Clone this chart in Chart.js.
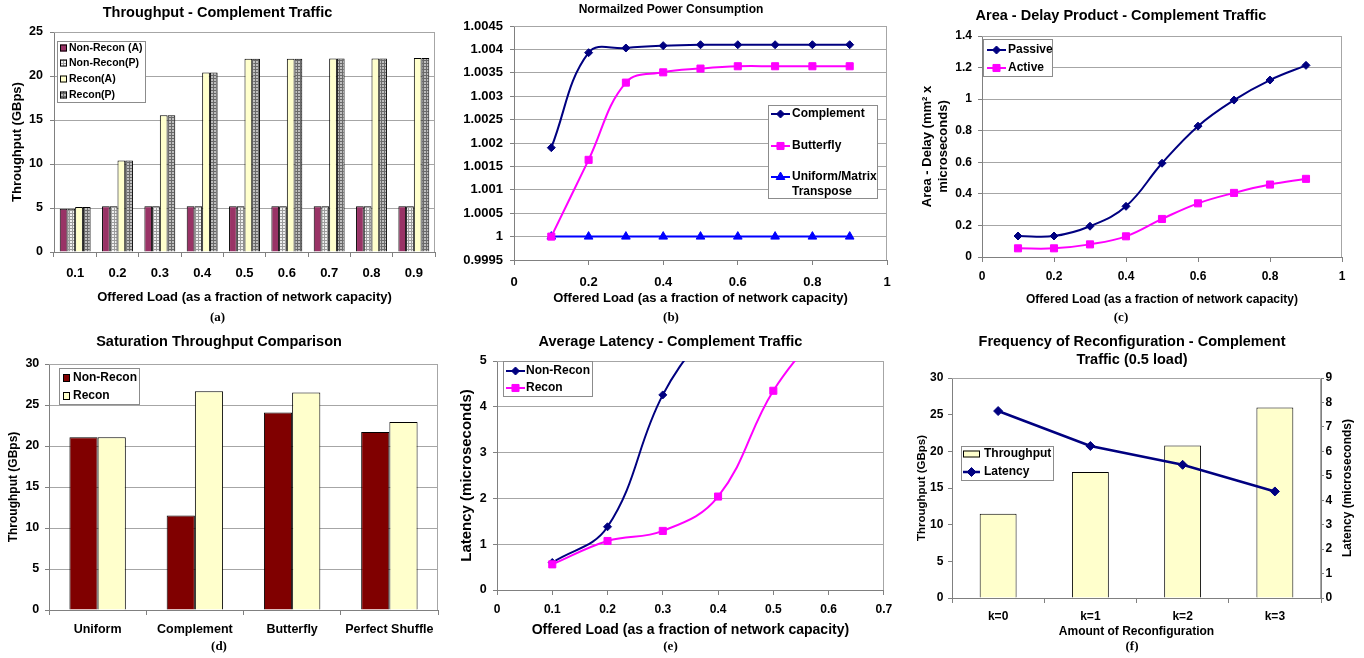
<!DOCTYPE html>
<html lang="en">
<head>
<meta charset="UTF-8">
<title>Reconfigurable network results</title>
<script src="https://cdn.jsdelivr.net/npm/chart.js@4.4.1/dist/chart.umd.min.js"></script>
<style>
  body { margin: 0; background: #fff; width: 1364px; height: 658px; position: relative; overflow: hidden; }
  canvas { position: absolute; }
</style>
</head>
<body>
<canvas id="a" width="455" height="325" style="left:0;top:0"></canvas>
<canvas id="b" width="445" height="325" style="left:455px;top:0"></canvas>
<canvas id="c" width="464" height="325" style="left:900px;top:0"></canvas>
<canvas id="d" width="455" height="333" style="left:0;top:325px"></canvas>
<canvas id="e" width="445" height="333" style="left:455px;top:325px"></canvas>
<canvas id="f" width="464" height="333" style="left:900px;top:325px"></canvas>
<script>
// (a) throughput, complement traffic
const loadA = ['0.1', '0.2', '0.3', '0.4', '0.5', '0.6', '0.7', '0.8', '0.9'];
const nonReconA = [4.92, 5.2, 5.2, 5.2, 5.2, 5.2, 5.2, 5.2, 5.2];
const nonReconP = [4.92, 5.2, 5.2, 5.2, 5.2, 5.2, 5.2, 5.2, 5.2];
const reconA = [5.1, 10.4, 15.55, 20.4, 21.95, 21.95, 22.0, 22.0, 22.05];
const reconP = [5.1, 10.4, 15.55, 20.4, 21.95, 21.95, 22.0, 22.0, 22.05];

// (b) normalized power
const loadB = [0.1, 0.2, 0.3, 0.4, 0.5, 0.6, 0.7, 0.8, 0.9];
const powerComplement = [1.0019, 1.00393, 1.00403, 1.00408, 1.0041, 1.0041, 1.0041, 1.0041, 1.0041];
const powerButterfly = [1.0, 1.00164, 1.00329, 1.00351, 1.00359, 1.00364, 1.00364, 1.00364, 1.00364];
const powerUniform = [1, 1, 1, 1, 1, 1, 1, 1, 1];

// (c) area - delay product
const loadC = [0.1, 0.2, 0.3, 0.4, 0.5, 0.6, 0.7, 0.8, 0.9];
const adPassive = [0.133, 0.133, 0.195, 0.321, 0.594, 0.829, 0.994, 1.121, 1.214];
const adActive = [0.055, 0.055, 0.08, 0.131, 0.241, 0.34, 0.406, 0.459, 0.495];

// (d) saturation throughput
const patterns = ['Uniform', 'Complement', 'Butterfly', 'Perfect Shuffle'];
const satNonRecon = [21.07, 11.53, 24.08, 21.72];
const satRecon = [21.07, 26.67, 26.51, 22.94];

// (e) average latency (last points run off the top of the plot)
const loadNonRecon = [0.1, 0.2, 0.3, 0.4];
const latNonRecon = [0.6, 1.38, 4.26, 6.0];
const loadRecon = [0.1, 0.2, 0.3, 0.4, 0.5, 0.6];
const latRecon = [0.56, 1.07, 1.29, 2.04, 4.35, 5.9];

// (f) frequency of reconfiguration
const kLabels = ['k=0', 'k=1', 'k=2', 'k=3'];
const freqThroughput = [11.5, 17.2, 20.8, 26.0];
const freqLatency = [7.65, 6.22, 5.45, 4.36];

const SANS = "'Liberation Sans', Arial, sans-serif";
const SERIF = "'Liberation Serif', 'Times New Roman', serif";

Chart.defaults.font.family = SANS;
Chart.defaults.font.weight = 'bold';
Chart.defaults.color = '#000';
Chart.defaults.animation = false;
Chart.defaults.responsive = false;
Chart.defaults.events = [];
Chart.defaults.plugins.legend.display = false;
Chart.defaults.plugins.tooltip.enabled = false;

const bold = (size, lineHeight) => ({ family: SANS, size, weight: 'bold', lineHeight: lineHeight || 1.2 });
const num = v => String(+Number(v).toFixed(4));
const pts = (xs, ys) => xs.map((x, i) => ({ x, y: ys[i] }));

function title(text, size, top, bottom, lh) {
    return { display: true, text, color: '#000', font: bold(size, lh), padding: { top, bottom } };
}

function caption(text, bottom) {
    return {
        display: true, text, position: 'bottom', color: '#000',
        font: { family: SERIF, size: 13, weight: 'bold' }, padding: { top: 0, bottom }
    };
}

function yAxis(o) {
    return {
        position: o.position || 'left',
        min: o.min, max: o.max,
        afterFit: s => { s.width = o.width; },
        border: { color: '#808080' },
        grid: { color: '#a6a6a6', drawOnChartArea: !o.noGrid, tickLength: o.tick || 4, tickColor: '#808080' },
        ticks: { stepSize: o.step, padding: o.pad, font: bold(o.size), callback: num },
        title: o.title
            ? { display: true, text: o.title, color: '#000', font: bold(o.titleSize, o.lh), padding: { top: o.titlePad, bottom: 0 } }
            : { display: false }
    };
}

function xAxis(o) {
    const ticks = { padding: o.pad, font: bold(o.size), maxRotation: 0, autoSkip: false };
    const axis = {
        type: o.type || 'category',
        afterFit: s => { s.height = o.height; },
        border: { color: '#808080' },
        grid: { drawOnChartArea: false, tickLength: 5, tickColor: '#808080' },
        ticks,
        title: o.title
            ? { display: true, text: o.title, color: '#000', font: bold(o.titleSize), padding: { top: 0, bottom: o.titlePad } }
            : { display: false }
    };
    if (o.type === 'linear') {
        axis.min = o.min;
        axis.max = o.max;
        ticks.stepSize = o.step;
        ticks.callback = num;
    }
    return axis;
}

function bars(label, data, color) {
    return { label, data, backgroundColor: color, borderColor: '#000', borderWidth: 1 };
}

function line(label, data, color, style, radius, extra) {
    return Object.assign({
        label, data, borderColor: color, backgroundColor: color,
        pointBackgroundColor: color, pointBorderColor: color, pointBorderWidth: 1,
        pointStyle: style, pointRadius: radius, borderWidth: 2, tension: 0.4
    }, extra);
}

// fine grey mesh used for the "(P)" bars
function mesh(bg, fg) {
    const c = document.createElement('canvas');
    c.width = c.height = 3;
    const g = c.getContext('2d');
    g.fillStyle = bg;
    g.fillRect(0, 0, 3, 3);
    g.fillStyle = fg;
    g.fillRect(0, 0, 3, 1);
    g.fillRect(0, 0, 1, 3);
    return g.createPattern(c, 'repeat');
}

function drawMarker(ctx, style, r, x, y) {
    if (Chart.helpers && Chart.helpers.drawPoint) {
        Chart.helpers.drawPoint(ctx, { pointStyle: style, radius: r, rotation: 0, borderWidth: 1 }, x, y);
        return;
    }
    ctx.beginPath();
    if (style === 'rect') ctx.rect(x - r * 0.7, y - r * 0.7, r * 1.4, r * 1.4);
    else if (style === 'triangle') { ctx.moveTo(x, y - r); ctx.lineTo(x + r * 0.87, y + r / 2); ctx.lineTo(x - r * 0.87, y + r / 2); }
    else { ctx.moveTo(x, y - r); ctx.lineTo(x + r, y); ctx.lineTo(x, y + r); ctx.lineTo(x - r, y); }
    ctx.closePath();
    ctx.fill();
}

// boxed legend inside the plot, like the spreadsheet originals
function drawLegend(chart, L) {
    const ctx = chart.ctx;
    ctx.save();
    ctx.fillStyle = '#fff';
    ctx.fillRect(L.box[0], L.box[1], L.box[2], L.box[3]);
    ctx.strokeStyle = '#8c8c8c';
    ctx.lineWidth = 1;
    ctx.strokeRect(L.box[0] + 0.5, L.box[1] + 0.5, L.box[2], L.box[3]);
    ctx.font = 'bold ' + L.size + 'px ' + SANS;
    ctx.textBaseline = 'middle';
    chart.data.datasets.forEach((ds, i) => {
        const y = L.rows[i];
        const kind = ds.type || chart.config.type;
        if (kind === 'bar') {
            ctx.fillStyle = ds.backgroundColor;
            ctx.fillRect(L.sx, y - L.sh / 2, L.sw, L.sh);
            ctx.strokeStyle = '#000';
            ctx.lineWidth = 1;
            ctx.strokeRect(L.sx + 0.5, y - L.sh / 2 + 0.5, L.sw - 1, L.sh - 1);
        } else {
            ctx.strokeStyle = ds.borderColor;
            ctx.lineWidth = ds.borderWidth;
            ctx.beginPath();
            ctx.moveTo(L.sx, y);
            ctx.lineTo(L.sx + L.sw, y);
            ctx.stroke();
            ctx.fillStyle = ds.pointBackgroundColor;
            ctx.strokeStyle = ds.pointBorderColor;
            ctx.lineWidth = 1;
            drawMarker(ctx, ds.pointStyle, ds.pointRadius, L.sx + L.sw / 2, y);
        }
        ctx.fillStyle = '#000';
        String(ds.label).split('\n').forEach((t, k) => ctx.fillText(t, L.tx, y + k * (L.lh || 15)));
    });
    ctx.restore();
}

function panel(spec) {
    return {
        id: 'panel',
        beforeDatasetsDraw(chart) {
            const { ctx, chartArea: a } = chart;
            const l = Math.round(a.left), r = Math.round(a.right) - 0.5, t = Math.round(a.top) + 0.5, b = Math.round(a.bottom);
            ctx.save();
            ctx.strokeStyle = '#a6a6a6';
            ctx.lineWidth = 1;
            ctx.beginPath();
            ctx.moveTo(l, t);
            ctx.lineTo(r, t);
            ctx.lineTo(r, b);
            ctx.stroke();
            ctx.restore();
        },
        afterDraw(chart) {
            if (spec.legend) drawLegend(chart, spec.legend);
            if (spec.rightTitle) {
                const R = spec.rightTitle, { ctx, chartArea: a } = chart;
                ctx.save();
                ctx.translate(R.x, (a.top + a.bottom) / 2);
                ctx.rotate(-Math.PI / 2);
                ctx.font = 'bold ' + R.size + 'px ' + SANS;
                ctx.fillStyle = '#000';
                ctx.textAlign = 'center';
                ctx.textBaseline = 'middle';
                ctx.fillText(R.text, 0, 0);
                ctx.restore();
            }
        }
    };
}

const offered = 'Offered Load (as a fraction of network capacity)';

// (a)
new Chart(document.getElementById('a'), {
    type: 'bar',
    data: {
        labels: loadA,
        datasets: [
            bars('Non-Recon (A)', nonReconA, '#993366'),
            bars('Non-Recon(P)', nonReconP, mesh('#efefef', '#9c9c9c')),
            bars('Recon(A)', reconA, '#ffffcc'),
            bars('Recon(P)', reconP, mesh('#bebebe', '#6a6a6a'))
        ]
    },
    options: {
        layout: { padding: { left: 0, right: 20, top: 0, bottom: 0 } },
        datasets: { bar: { categoryPercentage: 0.73, barPercentage: 1 } },
        scales: {
            x: xAxis({ height: 57.4, pad: 9, size: 13, title: offered, titleSize: 13, titlePad: 4.6 }),
            y: yAxis({ min: 0, max: 25, step: 5, width: 54, pad: 7, size: 12.5, title: 'Throughput (GBps)', titleSize: 13, titlePad: 9.2 })
        },
        plugins: {
            title: title('Throughput - Complement Traffic', 14.5, 4, 10.6),
            subtitle: caption('(a)', 0)
        }
    },
    plugins: [panel({ legend: { box: [57, 41, 88, 61], sx: 60, sw: 7, sh: 7, tx: 69, rows: [48, 63, 79, 95], size: 10.5 } })]
});

// (b)
new Chart(document.getElementById('b'), {
    type: 'line',
    data: {
        datasets: [
            line('Complement', pts(loadB, powerComplement), '#000080', 'rectRot', 4),
            line('Butterfly', pts(loadB, powerButterfly), '#ff00ff', 'rect', 5),
            line('Uniform/Matrix\nTranspose', pts(loadB, powerUniform), '#0000ff', 'triangle', 5)
        ]
    },
    options: {
        layout: { padding: { left: 0, right: 13, top: 0, bottom: 0 } },
        scales: {
            x: xAxis({ type: 'linear', min: 0, max: 1, step: 0.2, height: 49.4, pad: 9.2, size: 13, title: offered, titleSize: 13, titlePad: 3.6 }),
            y: yAxis({ min: 0.9995, max: 1.0045, step: 0.0005, width: 59, pad: 7, size: 13 })
        },
        plugins: {
            title: title('Normailzed Power Consumption', 12, 2.8, 8.8),
            subtitle: caption('(b)', 0)
        }
    },
    plugins: [panel({ legend: { box: [313, 105, 109, 93], sx: 316, sw: 19, tx: 337, rows: [114, 146, 177], lh: 14.5, size: 12 } })]
});

// (c)
new Chart(document.getElementById('c'), {
    type: 'line',
    data: {
        datasets: [
            line('Passive', pts(loadC, adPassive), '#000080', 'rectRot', 4),
            line('Active', pts(loadC, adActive), '#ff00ff', 'rect', 5)
        ]
    },
    options: {
        layout: { padding: { left: 0, right: 22, top: 0, bottom: 0 } },
        scales: {
            x: xAxis({ type: 'linear', min: 0, max: 1, step: 0.2, height: 52.4, pad: 7.8, size: 12, title: offered, titleSize: 12, titlePad: 2.2 }),
            y: yAxis({ min: 0, max: 1.4, step: 0.2, width: 82, pad: 6, size: 12, title: ['Area - Delay (mm² x', 'microseconds)'], titleSize: 13, lh: 1.23, titlePad: 19 })
        },
        plugins: {
            title: title('Area - Delay Product - Complement Traffic', 14.5, 7, 11.6),
            subtitle: caption('(c)', 0)
        }
    },
    plugins: [panel({ legend: { box: [83, 39, 69, 37], sx: 87, sw: 19, tx: 108, rows: [50, 68], size: 12 } })]
});

// (d)
new Chart(document.getElementById('d'), {
    type: 'bar',
    data: {
        labels: patterns,
        datasets: [
            bars('Non-Recon', satNonRecon, '#800000'),
            bars('Recon', satRecon, '#ffffcc')
        ]
    },
    options: {
        layout: { padding: { left: 0, right: 17, top: 0, bottom: 0 } },
        datasets: { bar: { categoryPercentage: 0.58, barPercentage: 1 } },
        scales: {
            x: xAxis({ height: 29.2, pad: 7.5, size: 12.5 }),
            y: yAxis({ min: 0, max: 30, step: 5, width: 49, pad: 5.7, size: 12.5, title: 'Throughput (GBps)', titleSize: 12, titlePad: 6.8 })
        },
        plugins: {
            title: title('Saturation Throughput Comparison', 14.5, 8, 13.6),
            subtitle: caption('(d)', 3.2)
        }
    },
    plugins: [panel({ legend: { box: [59, 43, 80, 36], sx: 63, sw: 7, sh: 8, tx: 73, rows: [53, 71], size: 12 } })]
});

// (e)
new Chart(document.getElementById('e'), {
    type: 'line',
    data: {
        datasets: [
            line('Non-Recon', pts(loadNonRecon, latNonRecon), '#000080', 'rectRot', 4, { order: 1 }),
            line('Recon', pts(loadRecon, latRecon), '#ff00ff', 'rect', 5, { order: 0 })
        ]
    },
    options: {
        layout: { padding: { left: 0, right: 14, top: 0, bottom: 0 } },
        scales: {
            x: xAxis({ type: 'linear', min: 0, max: 0.7, step: 0.1, height: 49.2, pad: 7.8, size: 12, title: offered, titleSize: 14, titlePad: 0.8 }),
            y: yAxis({ min: 0, max: 5, step: 1, width: 42, pad: 6.3, size: 12.5, title: 'Latency (microseconds)', titleSize: 15, titlePad: 3 })
        },
        plugins: {
            title: title('Average Latency - Complement Traffic', 14.5, 8, 10.6),
            subtitle: caption('(e)', 3.2)
        }
    },
    plugins: [panel({ legend: { box: [48, 36, 89, 35], sx: 51, sw: 19, tx: 71, rows: [46, 63], size: 12 } })]
});

// (f)
new Chart(document.getElementById('f'), {
    type: 'bar',
    data: {
        labels: kLabels,
        datasets: [
            Object.assign(bars('Throughput', freqThroughput, '#ffffcc'), { order: 1, barPercentage: 0.4, categoryPercentage: 1 }),
            line('Latency', freqLatency, '#000080', 'rectRot', 4.5, { type: 'line', yAxisID: 'y1', tension: 0, borderWidth: 2.5, order: 0 })
        ]
    },
    options: {
        layout: { padding: { left: 0, right: 0, top: 0, bottom: 0 } },
        scales: {
            x: xAxis({ height: 41.2, pad: 6.8, size: 12, title: 'Amount of Reconfiguration', titleSize: 12, titlePad: 0 }),
            y: yAxis({ min: 0, max: 30, step: 5, width: 52, pad: 4.7, size: 12, noGrid: true, title: 'Throughput (GBps)', titleSize: 11.5, titlePad: 15.1 }),
            y1: yAxis({ position: 'right', min: 0, max: 9, step: 1, width: 43, pad: 1.5, tick: 3, size: 12, noGrid: true })
        },
        plugins: {
            title: title(['Frequency of Reconfiguration - Complement', 'Traffic (0.5 load)'], 14.5, 8, 8.8, 1.25),
            subtitle: caption('(f)', 3.2)
        }
    },
    plugins: [panel({
        legend: { box: [61, 121, 92, 34], sx: 63, sw: 17, sh: 7, tx: 84, rows: [129, 147], size: 12 },
        rightTitle: { text: 'Latency (microseconds)', x: 448, size: 12 }
    })]
});
</script>
</body>
</html>
